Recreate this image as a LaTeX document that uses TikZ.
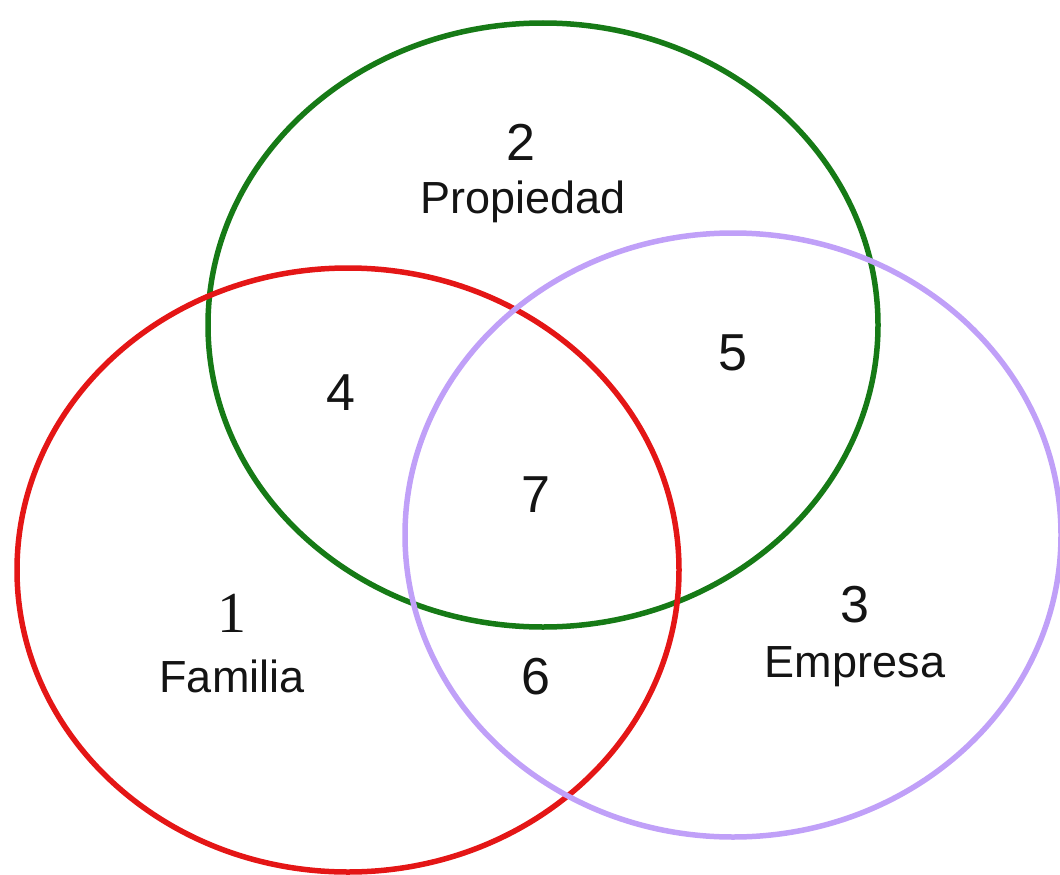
\documentclass[tikz,border=0pt]{standalone}
\usepackage{fontspec}
\setmainfont{Liberation Sans}
\newfontfamily\timesfont{Liberation Serif}
\usepackage{xcolor}
\usepackage{tikz}
\definecolor{famred}{RGB}{228,22,22}
\definecolor{propgreen}{RGB}{22,122,22}
\definecolor{emplilac}{RGB}{192,160,248}
\definecolor{ink}{RGB}{20,20,20}
\tikzset{
  setline/.style={line width=5.5pt},
  num/.style={font=\fontsize{52}{56}\selectfont,text=ink,inner sep=0pt},
  word/.style={font=\fontsize{45}{50}\selectfont,text=ink,inner sep=0pt,anchor=base}
}
\begin{document}
\begin{tikzpicture}[x=1pt,y=-1pt]
  \useasboundingbox (0,0) rectangle (1060,875);
  % the three circles
  \draw[setline,propgreen] (543,325) ellipse [x radius=335, y radius=302];
  \draw[setline,famred] (348,570) ellipse [x radius=331, y radius=302];
  \draw[setline,emplilac] (733,535) ellipse [x radius=328, y radius=302];
  % labels
  \node[num] (n2) at (521,142) {2};
  \node[word] (prop) at (523,213) {Propiedad};
  \node[num] (n5) at (733,353) {5};
  \node[num] (n4) at (341,393) {4};
  \node[num] (n7) at (536,495) {7};
  \node[num,font=\timesfont\fontsize{58}{60}\selectfont] (n1) at (232,613) {1};
  \node[word] (fam) at (232,692) {Familia};
  \node[num] (n6) at (536,677) {6};
  \node[num] (n3) at (855,605) {3};
  \node[word] (emp) at (855,677) {Empresa};
\end{tikzpicture}
\end{document}
